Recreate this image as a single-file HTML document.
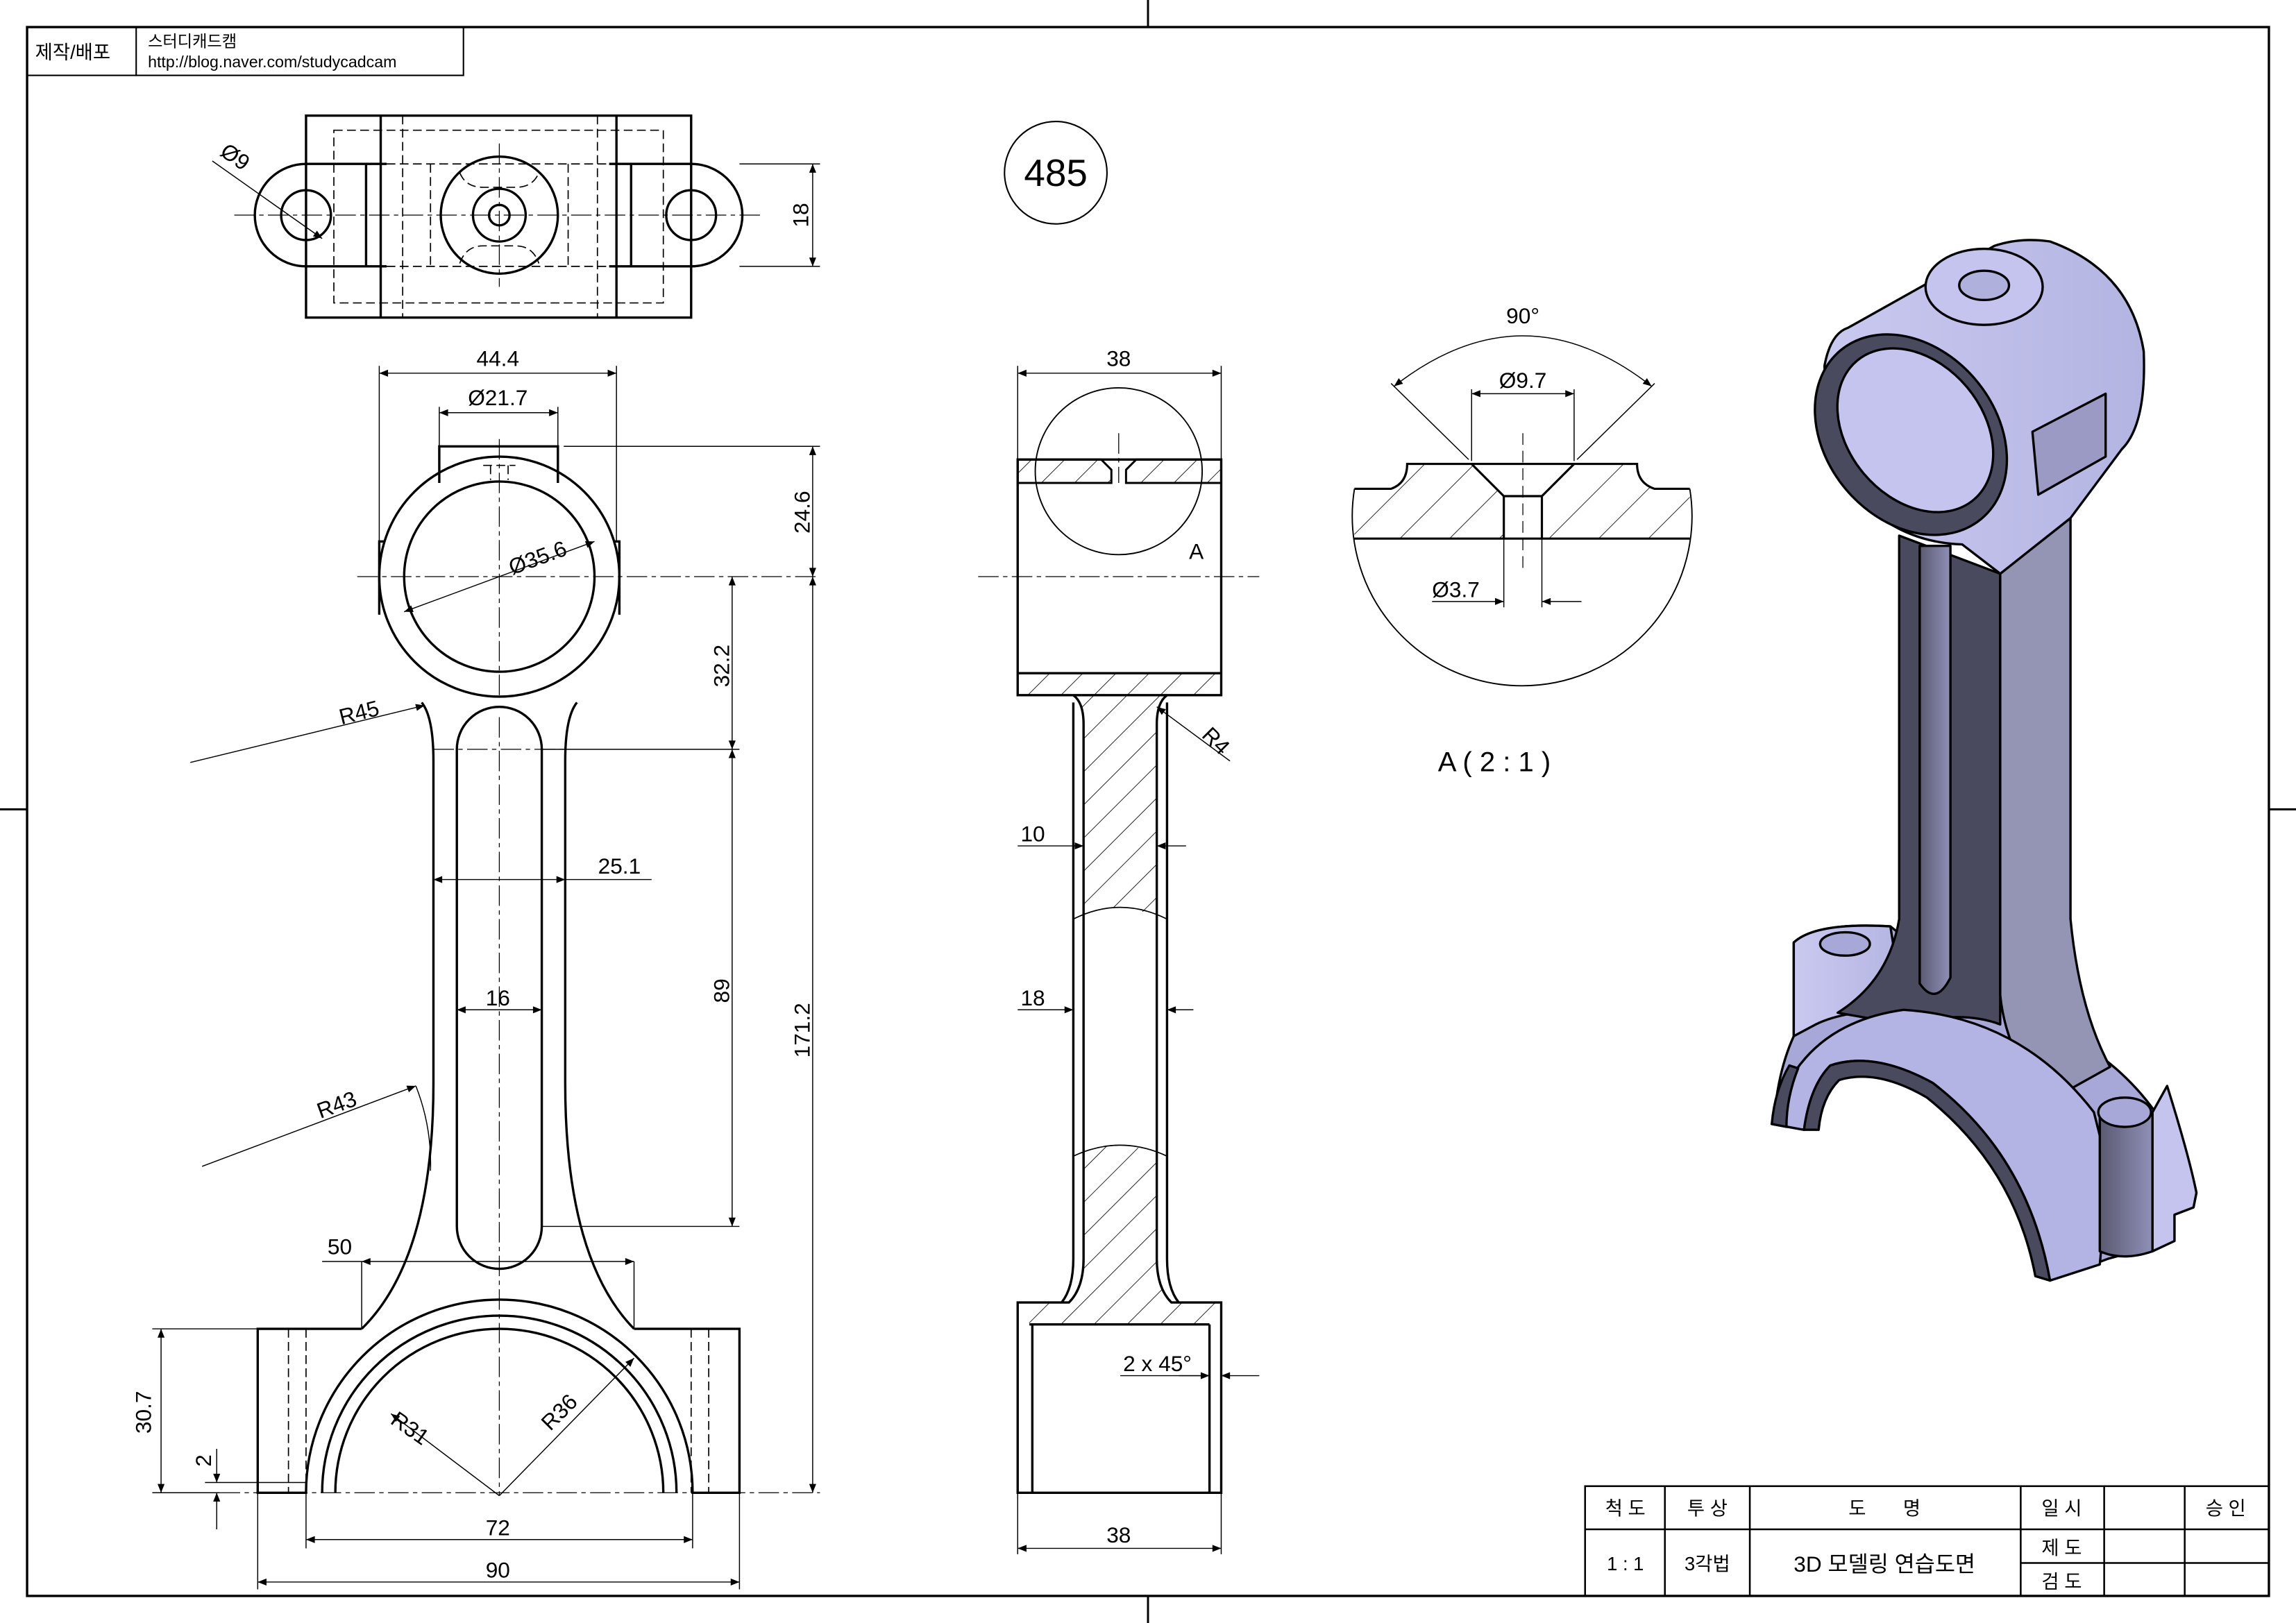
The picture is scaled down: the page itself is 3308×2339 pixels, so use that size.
<!DOCTYPE html>
<html><head><meta charset="utf-8"><style>
html,body{margin:0;padding:0;background:#fff}
svg{display:block}
text{font-family:"Liberation Sans","Noto Sans CJK KR",sans-serif;fill:#000}
</style></head><body>
<svg width="3308" height="2339" viewBox="0 0 1568 1109" preserveAspectRatio="none" xmlns="http://www.w3.org/2000/svg">
<defs>
<pattern id="h" patternUnits="userSpaceOnUse" width="16" height="16" patternTransform="rotate(45)">
<rect width="16" height="16" fill="#fff"/><line x1="0" y1="0" x2="0" y2="16" stroke="#000" stroke-width="0.8"/></pattern>
<pattern id="h2" patternUnits="userSpaceOnUse" width="24" height="24" patternTransform="rotate(45)">
<rect width="24" height="24" fill="#fff"/><line x1="0" y1="0" x2="0" y2="24" stroke="#000" stroke-width="0.8"/></pattern>
<marker id="a" viewBox="0 0 10 10" refX="10" refY="5" markerWidth="8" markerHeight="6" orient="auto-start-reverse" markerUnits="userSpaceOnUse"><path d="M0,1 L10,5 L0,9z" fill="#000"/></marker>
<linearGradient id="g1" x1="0" x2="1"><stop offset="0" stop-color="#c9c9f0"/><stop offset="1" stop-color="#b4b4e2"/></linearGradient>
<linearGradient id="g2" x1="0" x2="1"><stop offset="0" stop-color="#5a5a72"/><stop offset="1" stop-color="#9090b8"/></linearGradient>
</defs>
<rect width="1568" height="1109" fill="#fff"/>
<!-- border -->
<rect x="18.5" y="18.5" width="1531" height="1072" fill="none" stroke="#000" stroke-width="1.6"/>
<g stroke="#000" stroke-width="1.4">
<line x1="784" y1="0" x2="784" y2="18"/><line x1="784" y1="1090" x2="784" y2="1109"/>
<line x1="0" y1="553" x2="18" y2="553"/><line x1="1550" y1="553" x2="1568" y2="553"/></g>
<!-- top-left label -->
<g fill="none" stroke="#000" stroke-width="1"><rect x="18.5" y="18.5" width="298" height="33"/><line x1="93" y1="18" x2="93" y2="52"/></g>
<text x="24" y="40" font-size="13">제작/배포</text>
<text x="101" y="32" font-size="11">스터디캐드캠</text>
<text x="101" y="46" font-size="11">http://blog.naver.com/studycadcam</text>
<!-- 485 -->
<circle cx="721" cy="118" r="35" fill="none" stroke="#000" stroke-width="1"/>
<text x="721" y="127" font-size="26" text-anchor="middle">485</text>

<!-- TOP VIEW -->
<g fill="none" stroke="#000" stroke-width="1.6">
<rect x="209" y="79" width="263" height="138"/>
<line x1="260" y1="79" x2="260" y2="217"/><line x1="421" y1="79" x2="421" y2="217"/>
<path d="M209,112 A35,35 0 0 0 209,182"/><path d="M472,112 A35,35 0 0 1 472,182"/>
<line x1="209" y1="112" x2="264" y2="112"/><line x1="209" y1="182" x2="264" y2="182"/>
<line x1="416" y1="112" x2="472" y2="112"/><line x1="416" y1="182" x2="472" y2="182"/>
<line x1="250" y1="112" x2="250" y2="182"/><line x1="431" y1="112" x2="431" y2="182"/>
<ellipse cx="209" cy="147" rx="17" ry="17"/><ellipse cx="472" cy="147" rx="17" ry="17"/>
<ellipse cx="341" cy="147" rx="40" ry="40"/><ellipse cx="341" cy="147" rx="18" ry="18"/><circle cx="341" cy="147" r="7"/>
</g>
<g fill="none" stroke="#000" stroke-width="0.8" stroke-dasharray="6,3">
<path d="M228,89 L453,89 L453,207 L228,207z"/><line x1="275" y1="79" x2="275" y2="217"/><line x1="408" y1="79" x2="408" y2="217"/>
<line x1="264" y1="112" x2="416" y2="112"/><line x1="264" y1="182" x2="416" y2="182"/>
<line x1="294" y1="112" x2="294" y2="182"/><line x1="388" y1="112" x2="388" y2="182"/>
<path d="M314,118 Q318,128 330,128 L352,128 Q364,128 368,118"/><path d="M314,180 Q318,168 330,168 L352,168 Q364,168 368,180"/>
</g>
<g stroke="#000" stroke-width="0.6" stroke-dasharray="14,3,3,3">
<line x1="160" y1="147" x2="520" y2="147"/><line x1="341" y1="98" x2="341" y2="196"/></g>
<g stroke="#000" stroke-width="0.7" fill="none">
<line x1="145" y1="110" x2="220" y2="163" marker-end="url(#a)"/>
<line x1="505" y1="112" x2="560" y2="112"/><line x1="505" y1="182" x2="560" y2="182"/>
<line x1="555" y1="112" x2="555" y2="182" marker-start="url(#a)" marker-end="url(#a)"/></g>
<text x="150" y="112" font-size="15" transform="rotate(35 160 108)">Ø9</text>
<text x="552" y="147" font-size="15" text-anchor="middle" transform="rotate(-90 552 147)">18</text>

<!-- FRONT VIEW -->
<g fill="none" stroke="#000" stroke-width="1.6">
<path d="M300,330 L300,305 L381,305 L381,330"/>
<circle cx="341" cy="394" r="82"/><circle cx="341" cy="394" r="65"/>
<path d="M262,370 L259,370 L259,420"/><path d="M420,370 L423,370 L423,420"/>
<path d="M288,480 Q296,490 296,520 L296,740 Q296,860 247,908"/>
<path d="M394,480 Q386,490 386,520 L386,740 Q386,860 433,908"/>
<path d="M247,908 L176,908 L176,1020 L209,1020 A131,131 0 0 1 473,1020 L505,1020 L505,908 L433,908"/>
<path d="M220,1020 A121,121 0 0 1 462,1020"/><path d="M229,1020 A112,112 0 0 1 453,1020"/>
<path d="M312,512 A29,29 0 0 1 370,512 L370,838 A29,29 0 0 1 312,838 Z"/>
</g>
<g fill="none" stroke="#000" stroke-width="0.8" stroke-dasharray="6,3">
<line x1="209" y1="908" x2="209" y2="1020"/><line x1="472" y1="908" x2="472" y2="1020"/>
<line x1="197" y1="908" x2="197" y2="1020"/><line x1="484" y1="908" x2="484" y2="1020"/>
<path d="M330,318 L352,318 M335,318 L335,328 M347,318 L347,328"/></g>
<g stroke="#000" stroke-width="0.6" stroke-dasharray="14,3,3,3">
<line x1="244" y1="394" x2="560" y2="394"/><line x1="341" y1="300" x2="341" y2="478"/>
<line x1="341" y1="490" x2="341" y2="1022"/><line x1="150" y1="1020" x2="560" y2="1020"/>
<line x1="296" y1="512" x2="386" y2="512"/></g>
<g stroke="#000" stroke-width="0.7" fill="none">
<line x1="259" y1="250" x2="259" y2="370"/><line x1="421" y1="250" x2="421" y2="370"/>
<line x1="259" y1="255" x2="421" y2="255" marker-start="url(#a)" marker-end="url(#a)"/>
<line x1="300" y1="278" x2="300" y2="305"/><line x1="381" y1="278" x2="381" y2="305"/>
<line x1="300" y1="282" x2="381" y2="282" marker-start="url(#a)" marker-end="url(#a)"/>
<line x1="276" y1="418" x2="406" y2="370" marker-start="url(#a)" marker-end="url(#a)"/>
<line x1="385" y1="305" x2="560" y2="305"/><line x1="555" y1="305" x2="555" y2="394" marker-start="url(#a)" marker-end="url(#a)"/>
<line x1="555" y1="394" x2="555" y2="1020" marker-start="url(#a)" marker-end="url(#a)"/>
<line x1="500" y1="394" x2="500" y2="512" marker-start="url(#a)" marker-end="url(#a)"/>
<line x1="370" y1="512" x2="505" y2="512"/><line x1="370" y1="838" x2="505" y2="838"/>
<line x1="500" y1="512" x2="500" y2="838" marker-start="url(#a)" marker-end="url(#a)"/>
<line x1="130" y1="521" x2="290" y2="482" marker-end="url(#a)"/>
<line x1="296" y1="601" x2="386" y2="601" marker-start="url(#a)" marker-end="url(#a)"/><line x1="386" y1="601" x2="445" y2="601"/>
<line x1="312" y1="690" x2="370" y2="690" marker-start="url(#a)" marker-end="url(#a)"/>
<line x1="138" y1="797" x2="284" y2="742" marker-end="url(#a)"/>
<path d="M284,742 Q295,770 294,800"/>
<line x1="247" y1="862" x2="247" y2="908"/><line x1="433" y1="862" x2="433" y2="908"/>
<line x1="247" y1="862" x2="433" y2="862" marker-start="url(#a)" marker-end="url(#a)"/><line x1="220" y1="862" x2="247" y2="862"/>
<line x1="104" y1="908" x2="176" y2="908"/><line x1="110" y1="908" x2="110" y2="1020" marker-start="url(#a)" marker-end="url(#a)"/>
<line x1="104" y1="1020" x2="150" y2="1020"/><line x1="140" y1="1013" x2="209" y2="1013"/>
<line x1="148" y1="990" x2="148" y2="1013" marker-end="url(#a)"/><line x1="148" y1="1045" x2="148" y2="1020" marker-end="url(#a)"/>
<line x1="341" y1="1022" x2="267" y2="966" marker-end="url(#a)"/>
<line x1="341" y1="1022" x2="433" y2="928" marker-end="url(#a)"/>
<line x1="209" y1="1020" x2="209" y2="1058"/><line x1="473" y1="1020" x2="473" y2="1058"/>
<line x1="209" y1="1052" x2="473" y2="1052" marker-start="url(#a)" marker-end="url(#a)"/>
<line x1="176" y1="1020" x2="176" y2="1086"/><line x1="505" y1="1020" x2="505" y2="1086"/>
<line x1="176" y1="1081" x2="505" y2="1081" marker-start="url(#a)" marker-end="url(#a)"/>
</g>
<g font-size="15">
<text x="340" y="250" text-anchor="middle">44.4</text>
<text x="340" y="277" text-anchor="middle">Ø21.7</text>
<text x="345" y="386" transform="rotate(-20 367 376)">Ø35.6</text>
<text x="553" y="350" text-anchor="middle" transform="rotate(-90 553 350)">24.6</text>
<text x="498" y="455" text-anchor="middle" transform="rotate(-90 498 455)">32.2</text>
<text x="498" y="677" text-anchor="middle" transform="rotate(-90 498 677)">89</text>
<text x="553" y="704" text-anchor="middle" transform="rotate(-90 553 704)">171.2</text>
<text x="245" y="492" text-anchor="middle" transform="rotate(-14 245 486)">R45</text>
<text x="423" y="597" text-anchor="middle">25.1</text>
<text x="340" y="687" text-anchor="middle">16</text>
<text x="230" y="760" text-anchor="middle" transform="rotate(-20 230 755)">R43</text>
<text x="232" y="857" text-anchor="middle">50</text>
<text x="103" y="965" text-anchor="middle" transform="rotate(-90 103 965)">30.7</text>
<text x="144" y="998" text-anchor="middle" transform="rotate(-90 144 998)">2</text>
<text x="280" y="981" text-anchor="middle" transform="rotate(35 280 976)">R31</text>
<text x="382" y="970" text-anchor="middle" transform="rotate(-45 382 965)">R36</text>
<text x="340" y="1049" text-anchor="middle">72</text>
<text x="340" y="1078" text-anchor="middle">90</text>
</g>

<!-- SIDE VIEW -->
<path d="M695,314 L752,314 L759,321 L759,330 L695,330Z" fill="url(#h)" stroke="#000" stroke-width="1.4"/>
<path d="M776,314 L834,314 L834,330 L769,330 L769,321Z" fill="url(#h)" stroke="#000" stroke-width="1.4"/>
<rect x="695" y="460" width="139" height="15" fill="url(#h)" stroke="none"/>
<path d="M733,475 Q740,480 740,495 L740,628 Q765,612 790,628 L790,495 Q790,480 797,475 Z" fill="url(#h)" stroke="none"/>
<path d="M740,790 Q765,775 790,790 L790,860 Q790,878 800,890 L834,890 L834,905 L704,905 L695,897 L695,890 L730,890 Q740,878 740,860 Z" fill="url(#h)" stroke="none"/>
<g fill="none" stroke="#000" stroke-width="1.6">
<rect x="695" y="314" width="139" height="161"/>
<line x1="695" y1="460" x2="834" y2="460"/>
<path d="M733,475 Q740,480 740,495 L740,860 Q740,880 730,890 L695,890 L695,1020 L834,1020 L834,890 L800,890 Q790,880 790,860 L790,495 Q790,480 797,475"/>
<path d="M733,480 L733,860 Q733,880 725,890 M797,480 L797,860 Q797,880 805,890"/>
<path d="M703,905 L826,905 M705,905 L705,1020 M826,905 L826,1020"/>
<path d="M733,628 Q765,612 797,628 M733,790 Q765,775 797,790" stroke-width="0.8"/>
</g>
<circle cx="764" cy="322" r="57" fill="none" stroke="#000" stroke-width="0.9"/>
<g stroke="#000" stroke-width="0.6" stroke-dasharray="14,3,3,3"><line x1="668" y1="394" x2="860" y2="394"/><line x1="764" y1="296" x2="764" y2="330"/></g>
<g stroke="#000" stroke-width="0.7" fill="none">
<line x1="695" y1="250" x2="695" y2="314"/><line x1="834" y1="250" x2="834" y2="314"/>
<line x1="695" y1="255" x2="834" y2="255" marker-start="url(#a)" marker-end="url(#a)"/>
<line x1="695" y1="1020" x2="695" y2="1062"/><line x1="834" y1="1020" x2="834" y2="1062"/>
<line x1="695" y1="1058" x2="834" y2="1058" marker-start="url(#a)" marker-end="url(#a)"/>
<line x1="695" y1="578" x2="740" y2="578" marker-end="url(#a)"/><line x1="810" y1="578" x2="790" y2="578" marker-end="url(#a)"/>
<line x1="695" y1="690" x2="733" y2="690" marker-end="url(#a)"/><line x1="815" y1="690" x2="797" y2="690" marker-end="url(#a)"/>
<line x1="840" y1="520" x2="790" y2="483" marker-end="url(#a)"/>
<line x1="765" y1="940" x2="820" y2="940"/><line x1="860" y1="940" x2="834" y2="940" marker-end="url(#a)"/><line x1="805" y1="940" x2="826" y2="940" marker-end="url(#a)"/>
</g>
<g font-size="15">
<text x="764" y="250" text-anchor="middle">38</text><text x="764" y="1054" text-anchor="middle">38</text>
<text x="812" y="382">A</text>
<text x="697" y="575">10</text><text x="697" y="687">18</text>
<text x="818" y="508" transform="rotate(45 825 508)">R4</text>
<text x="767" y="937">2 x 45°</text>
</g>

<!-- DETAIL A -->
<path d="M961,317 L1005,317 L1027,339 L1027,368 L925,368 L925,334 L950,334 Q961,330 961,317 Z" fill="url(#h2)" stroke="none"/>
<path d="M1075,317 L1118,317 Q1118,330 1130,334 L1154,334 L1154,368 L1053,368 L1053,339 Z" fill="url(#h2)" stroke="none"/>
<g fill="none" stroke="#000" stroke-width="1.5">
<path d="M925,334 L950,334 Q961,330 961,317 L1118,317 Q1118,330 1130,334 L1154,334"/>
<line x1="925" y1="368" x2="1154" y2="368"/>
<path d="M1005,317 L1027,339 L1053,339 L1075,317"/><path d="M1027,339 L1027,368 M1053,339 L1053,368"/>
</g>
<path d="M925,334 A116,116 0 1 0 1154,334" fill="none" stroke="#000" stroke-width="0.9"/>
<line x1="1040" y1="296" x2="1040" y2="390" stroke="#000" stroke-width="0.6" stroke-dasharray="8,4"/>
<g stroke="#000" stroke-width="0.7" fill="none">
<line x1="1003" y1="314" x2="950" y2="262"/><line x1="1077" y1="314" x2="1130" y2="262"/>
<path d="M952,264 Q1040,195 1128,264" marker-start="url(#a)" marker-end="url(#a)"/>
<line x1="1005" y1="266" x2="1005" y2="315"/><line x1="1075" y1="266" x2="1075" y2="315"/>
<line x1="1005" y1="269" x2="1075" y2="269" marker-start="url(#a)" marker-end="url(#a)"/>
<line x1="1027" y1="368" x2="1027" y2="415"/><line x1="1053" y1="368" x2="1053" y2="415"/>
<line x1="978" y1="411" x2="1027" y2="411" marker-end="url(#a)"/><line x1="1080" y1="411" x2="1053" y2="411" marker-end="url(#a)"/>
</g>
<g font-size="15"><text x="1040" y="221" text-anchor="middle">90°</text><text x="1040" y="265" text-anchor="middle">Ø9.7</text><text x="978" y="408">Ø3.7</text></g>
<text x="982" y="527" font-size="19">A ( 2 : 1 )</text>

<!-- ISOMETRIC -->
<g stroke="#000" stroke-width="1.6" stroke-linejoin="round">
<!-- cap body -->
<path d="M1225,644 Q1240,630 1291,633 L1340,672 L1398,700 Q1445,722 1472,760 Q1495,790 1500,815 L1498,825 L1485,830 L1485,848 L1440,860 L1400,875 L1395,860 Q1370,780 1300,735 Q1270,720 1248,730 Q1235,745 1232,772 L1210,768 L1212,760 Q1215,730 1225,708 Z" fill="#a8a8d8"/>
<path d="M1225,644 Q1240,630 1291,633 L1300,690 Q1260,690 1240,700 L1225,708 Z" fill="url(#g1)"/>
<ellipse cx="1260" cy="645" rx="17" ry="8" fill="#a8a8d8"/>
<!-- shank -->
<path d="M1297,366 L1297,628 Q1290,670 1255,692 L1300,700 Q1340,690 1366,700 L1366,392 Z" fill="#4a4a5e"/>
<path d="M1311,373 L1332,373 L1332,668 Q1322,688 1311,672 Z" fill="url(#g2)"/>
<path d="M1366,392 L1414,354 L1414,628 Q1420,690 1441,729 L1398,753 Q1370,720 1366,680 Z" fill="#9494b4"/>
<!-- arched front -->
<path d="M1210,768 Q1228,700 1300,690 Q1380,695 1430,760 L1440,800 L1434,864 L1400,875 Q1385,790 1320,740 Q1280,718 1250,728 Q1236,742 1232,772 Z" fill="#b4b4e4"/>
<path d="M1232,772 Q1236,742 1250,728 Q1280,718 1320,740 Q1385,790 1400,875 L1390,872 Q1376,798 1316,750 Q1282,730 1256,738 Q1244,750 1242,772 Z" fill="#4a4a5e"/>
<path d="M1210,768 Q1212,745 1222,728 L1228,730 Q1220,750 1220,770 Z" fill="#4a4a5e"/>
<!-- right lug -->
<path d="M1434,762 L1434,855 Q1450,862 1470,855 L1470,762 Z" fill="url(#g2)"/>
<path d="M1470,760 L1480,742 Q1495,790 1500,815 L1498,825 L1485,830 L1485,848 L1470,855 Z" fill="#c4c4ee"/>
<ellipse cx="1451" cy="760" rx="18" ry="10" fill="#a8a8d8"/>
<!-- top boss -->
<path d="M1246,250 Q1250,228 1262,224 L1362,168 Q1380,162 1400,165 Q1455,185 1464,240 Q1466,290 1449,307 L1414,354 L1366,392 L1340,372 Q1280,370 1248,310 Z" fill="url(#g1)"/>
<ellipse cx="1305" cy="297" rx="58" ry="75" transform="rotate(-40 1305 297)" fill="#4a4a5e"/>
<ellipse cx="1308" cy="294" rx="46" ry="62" transform="rotate(-40 1308 294)" fill="#c4c4ee"/>
<ellipse cx="1355" cy="196" rx="40" ry="26" fill="#c4c4ee"/>
<ellipse cx="1355" cy="195" rx="17" ry="10" fill="#b0b0dc"/>
<path d="M1388,295 L1438,269 L1438,312 L1392,338 Z" fill="#9a9ac4"/>
</g>

<!-- TITLE BLOCK -->
<g fill="none" stroke="#000" stroke-width="1.2">
<rect x="1082.5" y="1015.5" width="467" height="75"/>
<line x1="1082" y1="1045" x2="1550" y2="1045"/>
<line x1="1137" y1="1015" x2="1137" y2="1090"/><line x1="1195" y1="1015" x2="1195" y2="1090"/>
<line x1="1380" y1="1015" x2="1380" y2="1090"/><line x1="1437" y1="1015" x2="1437" y2="1090"/>
<line x1="1492" y1="1015" x2="1492" y2="1090"/><line x1="1380" y1="1068" x2="1550" y2="1068"/>
</g>
<g font-size="13" text-anchor="middle">
<text x="1110" y="1035">척 도</text><text x="1166" y="1035">투 상</text><text x="1287" y="1035">도&#160;&#160;&#160;&#160;&#160;&#160;&#160;명</text>
<text x="1408" y="1035">일 시</text><text x="1520" y="1035">승 인</text>
<text x="1110" y="1073">1 : 1</text><text x="1166" y="1073">3각법</text>
<text x="1287" y="1074" font-size="15">3D 모델링 연습도면</text>
<text x="1408" y="1062">제 도</text><text x="1408" y="1085">검 도</text>
</g>
</svg>
</body></html>
